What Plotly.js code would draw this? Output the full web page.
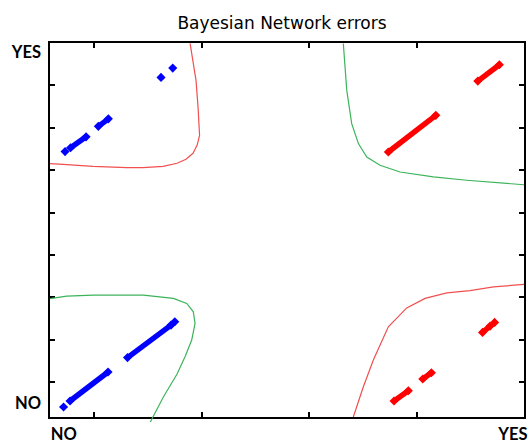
<!DOCTYPE html>
<html>
<head>
<meta charset="utf-8">
<script src="https://cdn.plot.ly/plotly-3.0.1.min.js"></script>
<style>html,body{margin:0;padding:0;background:#fff;}#chart{width:531px;height:443px;}</style>
</head>
<body>
<div id="chart"></div>
<script>
// ---- data ----
var chartTitle = "Bayesian Network errors";
var xTickLabels = ["NO", "YES"];
var xTickLabelPos = [0.72, 4.89];
var yTickLabels = ["NO", "YES"];
var yTickLabelPos = [0.505, 8.78];
var xTicks = [1, 2, 3, 4];
var yTicks = [1, 2, 3, 4, 5, 6, 7, 8];

// blue errors, lower-left quadrant (null = gap between runs)
var blueLowX = [0.717, null, 0.777, 1.130, null, 1.311, 1.715, null, 1.750];
var blueLowY = [0.411, null, 0.552, 1.236, null, 1.577, 2.343, null, 2.421];
// blue errors, upper-left quadrant
var blueHighX = [0.731, null, 0.782, 0.926, null, 1.040, 1.133, null, 1.622, null, 1.731];
var blueHighY = [6.437, null, 6.527, 6.786, null, 7.033, 7.210, null, 8.188, null, 8.408];
// red errors, upper-right quadrant
var redHighX = [3.733, 4.174, null, 4.564, 4.764];
var redHighY = [6.428, 7.293, null, 8.101, 8.488];
// red errors, lower-right quadrant
var redLowX = [3.786, 3.919, null, 4.053, 4.133, null, 4.608, 4.678, null, 4.720];
var redLowY = [0.552, 0.795, null, 1.071, 1.219, null, 2.171, 2.320, null, 2.407];

// boundary curves
var redCurveTLX = [1.892, 1.919, 1.947, 1.966, 1.980, 1.957, 1.919, 1.854, 1.771, 1.641, 1.455, 1.306, 0.991, 0.712, 0.591];
var redCurveTLY = [8.990, 8.589, 8.117, 7.481, 6.821, 6.586, 6.397, 6.256, 6.162, 6.091, 6.060, 6.060, 6.091, 6.138, 6.154];
var greenCurveTRX = [3.315, 3.347, 3.393, 3.455, 3.533, 3.656, 3.842, 4.151, 4.461, 4.771, 4.994];
var greenCurveTRY = [8.990, 7.882, 7.097, 6.626, 6.310, 6.114, 5.956, 5.839, 5.761, 5.697, 5.655];
var greenCurveBLX = [0.591, 0.746, 0.994, 1.458, 1.737, 1.861, 1.922, 1.938, 1.907, 1.845, 1.771, 1.645, 1.536, 1.504];
var greenCurveBLY = [2.968, 3.027, 3.050, 3.050, 2.973, 2.855, 2.657, 2.383, 1.990, 1.596, 1.189, 0.654, 0.121, -0.037];
var redCurveBRX = [3.408, 3.501, 3.594, 3.733, 3.904, 4.074, 4.276, 4.492, 4.709, 4.994];
var redCurveBRY = [0.175, 0.889, 1.518, 2.303, 2.749, 2.973, 3.105, 3.157, 3.246, 3.303];

// ---- styling ----
var BLUE = "#0000ff", RED = "#ff0000";
var THIN_RED = "rgb(240,80,80)", THIN_GREEN = "rgb(60,180,90)";

function seg(x, y, c) {
  return {x: x, y: y, type: "scatter", mode: "lines+markers", connectgaps: false,
    line: {color: c, width: 5.5}, marker: {color: c, size: 7, symbol: "diamond"},
    hoverinfo: "skip", showlegend: false, xaxis: "x", yaxis: "y"};
}
function curve(x, y, c, xa, ya) {
  return {x: x, y: y, type: "scatter", mode: "lines", line: {color: c, width: 1.2},
    hoverinfo: "skip", showlegend: false, xaxis: xa, yaxis: ya};
}

var traces = [
  curve(redCurveTLX, redCurveTLY, THIN_RED, "x", "y"),
  curve(greenCurveTRX, greenCurveTRY, THIN_GREEN, "x", "y"),
  curve(redCurveBRX, redCurveBRY, THIN_RED, "x", "y"),
  curve(greenCurveBLX, greenCurveBLY, THIN_GREEN, "x2", "y2"),
  seg(blueLowX, blueLowY, BLUE),
  seg(blueHighX, blueHighY, BLUE),
  seg(redHighX, redHighY, RED),
  seg(redLowX, redLowY, RED)
];

var XR = [0.591, 4.993];
var labelFont = {family: "Lato, 'Liberation Sans', sans-serif", size: 16.5, color: "#000", weight: "bold"};

var layout = {
  width: 531, height: 443,
  margin: {l: 50, r: 7, t: 43, b: 21, pad: 0},
  paper_bgcolor: "#ffffff", plot_bgcolor: "rgba(0,0,0,0)",
  showlegend: false,
  title: {text: chartTitle, font: {family: "DejaVu Sans", size: 17, color: "#000"},
    xref: "container", x: 0.531, xanchor: "center", yref: "container", y: 0.948, yanchor: "middle"},
  xaxis: {domain: [0, 1], range: XR, anchor: "y", showgrid: false, zeroline: false,
    showline: true, linecolor: "#000", linewidth: 2, mirror: "ticks",
    ticks: "inside", ticklen: 5, tickwidth: 2, tickcolor: "#000",
    tickmode: "array", tickvals: xTicks, showticklabels: false},
  yaxis: {domain: [0.0132, 1], range: [0.175, 9.0], anchor: "x", showgrid: false, zeroline: false,
    showline: true, linecolor: "#000", linewidth: 2, mirror: "ticks",
    ticks: "inside", ticklen: 5, tickwidth: 2, tickcolor: "#000",
    tickmode: "array", tickvals: yTicks, showticklabels: false},
  xaxis2: {domain: [0, 1], range: XR, anchor: "y2", showgrid: false, zeroline: false,
    showline: false, ticks: "", tickmode: "array", tickvals: xTickLabelPos, ticktext: xTickLabels,
    tickfont: labelFont, ticklabelstandoff: 0},
  yaxis2: {domain: [0, 1], range: [0.057, 9.0], anchor: "x2", showgrid: false, zeroline: false,
    showline: false, ticks: "", tickmode: "array", tickvals: yTickLabelPos, ticktext: yTickLabels,
    tickfont: labelFont, ticklabelstandoff: 8}
};

Plotly.newPlot("chart", traces, layout, {staticPlot: true, displayModeBar: false});
</script>
</body>
</html>
